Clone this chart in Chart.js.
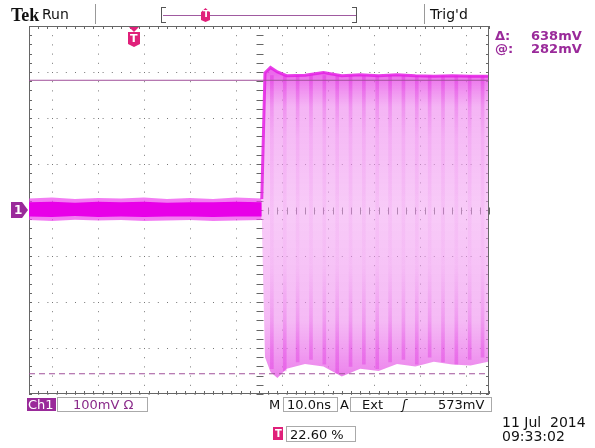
<!DOCTYPE html>
<html>
<head>
<meta charset="utf-8">
<script src="https://cdn.jsdelivr.net/npm/chart.js@4.4.1/dist/chart.umd.min.js"></script>
<style>
body { margin: 0; background: #fff; width: 595px; height: 448px; overflow: hidden; position: relative; font-family: "DejaVu Sans", sans-serif; }
#scope { position: absolute; left: 0; top: 0; }
.t { position: absolute; white-space: pre; line-height: 1; font-size: 13px; color: #111; }
.pur { color: #9a2a9a; font-weight: bold; }
.box { position: absolute; border: 1px solid #aaa; background: #fff; }
.vsep { position: absolute; width: 1px; background: #999; }
</style>
</head>
<body>
<canvas id="scope" width="595" height="448"></canvas>

<!-- barra superior -->
<div class="t" style="left:11px;top:5px;font:bold 18px 'Liberation Serif',serif;">Tek</div>
<div class="t" style="left:42px;top:7px;font-size:14px;">Run</div>
<div class="vsep" style="left:95px;top:4px;height:20px;"></div>
<div style="position:absolute;left:161px;top:7px;width:4px;height:14px;border:1px solid #555;border-right:none;"></div>
<div style="position:absolute;left:163px;top:15px;width:193px;height:1px;background:#a05aa0;"></div>
<div style="position:absolute;left:352px;top:7px;width:4px;height:14px;border:1px solid #555;border-left:none;"></div>
<div style="position:absolute;left:201px;top:8px;width:9px;height:14px;background:#e0207a;clip-path:polygon(0 30%,50% 0,100% 30%,100% 85%,50% 100%,0 85%);"></div>
<div class="t" style="left:203px;top:10px;font-size:9px;color:#fff;font-weight:bold;">T</div>
<div class="vsep" style="left:424px;top:4px;height:20px;"></div>
<div class="t" style="left:430px;top:7px;font-size:14px;">Trig'd</div>

<!-- leituras dos cursores -->
<div class="t pur" style="left:495px;top:29px;">Δ:</div>
<div class="t pur" style="left:531px;top:29px;">638mV</div>
<div class="t pur" style="left:495px;top:42px;">@:</div>
<div class="t pur" style="left:531px;top:42px;">282mV</div>

<!-- marcador de trigger -->
<div style="position:absolute;left:129px;top:27px;width:10px;height:5px;background:#e0207a;clip-path:polygon(0 0,100% 0,50% 100%);"></div>
<div style="position:absolute;left:128px;top:32px;width:12px;height:15px;background:#e0207a;clip-path:polygon(0 0,100% 0,100% 80%,50% 100%,0 80%);"></div>
<div class="t" style="left:130px;top:33px;font-size:11px;color:#fff;font-weight:bold;">T</div>

<!-- marcador de terra do canal 1 -->
<div style="position:absolute;left:11px;top:202px;width:17px;height:16px;background:#9a2a9a;clip-path:polygon(0 0,65% 0,100% 50%,65% 100%,0 100%);"></div>
<div class="t" style="left:14px;top:204px;font-size:12px;color:#fff;font-weight:bold;">1</div>

<!-- barra inferior -->
<div style="position:absolute;left:27px;top:398px;width:29px;height:13px;background:#9a2a9a;"></div>
<div class="t" style="left:28px;top:398px;color:#fff;font-size:13px;">Ch1</div>
<div class="box" style="left:57px;top:397px;width:89px;height:13px;"></div>
<div class="t" style="left:73px;top:398px;color:#8a2a8a;font-size:13px;">100mV Ω</div>

<div class="t" style="left:269px;top:398px;font-size:13px;">M</div>
<div class="box" style="left:283px;top:397px;width:53px;height:13px;"></div>
<div class="t" style="left:287px;top:398px;font-size:13px;">10.0ns</div>
<div class="t" style="left:340px;top:398px;font-size:13px;">A</div>
<div class="box" style="left:350px;top:397px;width:140px;height:13px;"></div>
<div class="t" style="left:362px;top:398px;font-size:13px;">Ext</div>
<div class="t" style="left:402px;top:398px;font-size:13px;font-style:italic;">ʃ</div>
<div class="t" style="left:438px;top:398px;font-size:13px;">573mV</div>

<div style="position:absolute;left:273px;top:427px;width:10px;height:13px;background:#e0207a;"></div>
<div class="t" style="left:275px;top:429px;font-size:10px;color:#fff;font-weight:bold;">T</div>
<div class="box" style="left:286px;top:426px;width:68px;height:14px;"></div>
<div class="t" style="left:290px;top:428px;font-size:13px;">22.60 %</div>

<div class="t" style="left:502px;top:415px;font-size:14px;">11 Jul  2014</div>
<div class="t" style="left:502px;top:429px;font-size:14px;">09:33:02</div>

<script>
// Escalas do ecrã (10 divisões x 10 ns, 8 divisões x 100 mV)
const timeDivs = [0, 10, 20, 30, 40, 50, 60, 70, 80, 90, 100];
const voltDivs = [-400, -300, -200, -100, 0, 100, 200, 300, 400];

// Linha de base antes do degrau (ns, mV)
const baseT = [0, 5, 10, 15, 20, 25, 30, 35, 40, 45, 50.6];
const baseHi = [25, 27, 24, 26, 25, 27, 24, 26, 24, 27, 25];
const baseLo = [-22, -24, -21, -23, -22, -24, -23, -22, -24, -23, -22];
const coreHi = [17, 18, 16, 18, 17, 18, 16, 17, 17, 18, 17];
const coreLo = [-14, -15, -13, -15, -14, -15, -14, -14, -15, -14, -14];

// Envolvente depois do degrau
const stepT = [50.6, 51.3, 52.5, 54, 56, 60, 64, 68, 72, 76, 80, 84, 88, 92, 96, 99.8];
const stepTop = [24, 298, 310, 300, 292, 293, 299, 292, 294, 292, 294, 292, 291, 292, 291, 291];
const stepBottom = [-21, -320, -352, -365, -345, -335, -340, -362, -345, -350, -335, -340, -330, -336, -338, -330];

// Riscas verticais do toque (posição em ns e fundo em mV)
const streakT = [52.8, 55.6, 58.4, 61.3, 64.2, 67.0, 69.9, 72.8, 75.7, 78.5, 81.4, 84.3, 87.1, 90.0, 92.9, 95.8, 98.6];
const streakLo = [-345, -350, -330, -325, -335, -355, -340, -335, -345, -330, -325, -335, -320, -330, -335, -325, -320];

// Cursores horizontais
const cursorTop = 282;
const cursorBottom = -356;

const pts = (xs, ys) => xs.map((x, i) => ({ x: x, y: ys[i] }));

function vGrad(chart, stops) {
    const a = chart.chartArea;
    if (!a) return stops[0][1];
    const g = chart.ctx.createLinearGradient(0, a.top, 0, a.bottom);
    stops.forEach(s => g.addColorStop(s[0], s[1]));
    return g;
}

// Marcas das subdivisões no eixo central e na moldura
const graticule = {
    id: 'graticule',
    beforeDatasetsDraw(chart) {
        const { ctx, chartArea: a, scales: { x, y } } = chart;
        ctx.save();
        ctx.strokeStyle = '#666';
        ctx.lineWidth = 1;
        ctx.strokeRect(a.left + 0.5, a.top + 0.5, a.right - a.left - 1, a.bottom - a.top - 1);
        const cx = Math.round(x.getPixelForValue(50)) + 0.5;
        const cy = Math.round(y.getPixelForValue(0)) + 0.5;
        ctx.beginPath();
        for (let v = -400; v <= 400; v += 20) {
            const py = Math.round(y.getPixelForValue(v)) + 0.5;
            ctx.moveTo(cx - 3, py); ctx.lineTo(cx + 4, py);
            ctx.moveTo(a.left, py); ctx.lineTo(a.left + 3, py);
            ctx.moveTo(a.right - 3, py); ctx.lineTo(a.right, py);
        }
        for (let t = 0; t <= 100; t += 2) {
            const px = Math.round(x.getPixelForValue(t)) + 0.5;
            ctx.moveTo(px, cy - 3); ctx.lineTo(px, cy + 4);
            ctx.moveTo(px, a.top); ctx.lineTo(px, a.top + 3);
            ctx.moveTo(px, a.bottom - 3); ctx.lineTo(px, a.bottom);
        }
        ctx.stroke();
        ctx.restore();
    }
};

const lineBase = { pointRadius: 0, tension: 0, borderWidth: 0, fill: false };

new Chart(document.getElementById('scope'), {
    type: 'line',
    data: {
        datasets: [
            { ...lineBase, data: pts([0, 100], [cursorTop, cursorTop]), borderColor: '#a0509a', borderWidth: 1 },
            { ...lineBase, data: pts([0, 100], [cursorBottom, cursorBottom]), borderColor: '#a0509a', borderWidth: 1, borderDash: [6, 4] },
            { ...lineBase, data: pts(stepT, stepTop), borderColor: 'rgba(228,30,228,0.85)', borderWidth: 3 },
            {
                type: 'bar',
                data: streakT.map((t, i) => ({ x: t, y: [streakLo[i], 292] })),
                barThickness: 3,
                backgroundColor: ctx => vGrad(ctx.chart, [
                    [0.14, 'rgba(220,20,220,0.35)'], [0.3, 'rgba(228,60,228,0.12)'],
                    [0.65, 'rgba(228,80,228,0.06)'], [0.88, 'rgba(220,20,220,0.3)'], [1, 'rgba(220,20,220,0.3)']
                ])
            },
            {
                ...lineBase, data: pts(stepT, stepTop), fill: '+1',
                backgroundColor: ctx => vGrad(ctx.chart, [
                    [0.13, 'rgba(230,70,230,0.8)'], [0.22, 'rgba(238,135,238,0.62)'],
                    [0.5, 'rgba(242,160,242,0.55)'], [0.8, 'rgba(238,140,238,0.6)'], [0.95, 'rgba(230,90,230,0.75)']
                ])
            },
            { ...lineBase, data: pts(stepT, stepBottom) },
            { ...lineBase, data: pts(baseT, coreHi), fill: '+1', backgroundColor: 'rgb(232,0,232)' },
            { ...lineBase, data: pts(baseT, coreLo) },
            { ...lineBase, data: pts(baseT, baseHi), fill: '+1', backgroundColor: 'rgba(238,70,238,0.7)' },
            { ...lineBase, data: pts(baseT, baseLo) }
        ]
    },
    options: {
        responsive: false,
        animation: false,
        layout: { padding: { left: 29, top: 26, right: 106, bottom: 54 } },
        plugins: { legend: { display: false }, tooltip: { enabled: false } },
        scales: {
            x: {
                type: 'linear', min: timeDivs[0], max: timeDivs[timeDivs.length - 1], offset: false,
                afterBuildTicks: s => { s.ticks = timeDivs.map(v => ({ value: v })); },
                afterFit: s => { s.height = 0; },
                ticks: { display: false },
                grid: { color: '#777', drawTicks: false, lineWidth: 1 },
                border: { display: false, dash: [1, 8.2] }
            },
            y: {
                min: voltDivs[0], max: voltDivs[voltDivs.length - 1],
                afterBuildTicks: s => { s.ticks = voltDivs.map(v => ({ value: v })); },
                afterFit: s => { s.width = 0; },
                ticks: { display: false },
                grid: { color: '#777', drawTicks: false, lineWidth: 1 },
                border: { display: false, dash: [1, 8.2] }
            }
        }
    },
    plugins: [graticule]
});
</script>
</body>
</html>
